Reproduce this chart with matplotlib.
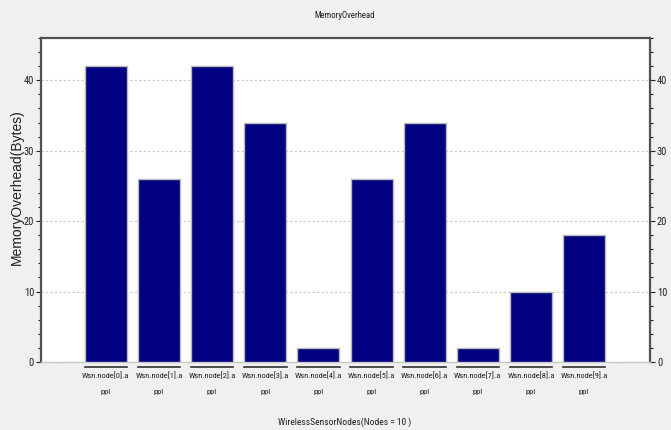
import matplotlib
matplotlib.use("Agg")
import matplotlib.pyplot as plt
from matplotlib import font_manager
from matplotlib.ticker import MultipleLocator
import matplotlib.transforms as mtransforms

nodes = [f"Wsn.node[{i}].a\nppl" for i in range(10)]
overhead = [42, 26, 42, 34, 2, 26, 34, 2, 10, 18]

# prefer a condensed face when one is installed
installed = {f.name for f in font_manager.fontManager.ttflist}
if "Roboto Condensed" in installed:
    narrow, scale = ["Roboto Condensed", "DejaVu Sans"], 1.0
elif "Liberation Sans Narrow" in installed:
    narrow, scale = ["Liberation Sans Narrow", "DejaVu Sans"], 1.05
else:
    narrow, scale = ["Liberation Sans", "DejaVu Sans"], 0.85

fig = plt.figure(figsize=(6.71, 4.30), dpi=100, facecolor="#f0f0f0")
ax = fig.add_axes([41 / 671, 1 - 362 / 430, (650 - 41) / 671, (362 - 38) / 430])
ax.set_facecolor("white")

x = list(range(len(nodes)))
ax.bar(x, overhead, width=0.79, color="#000080", edgecolor="#b8b8b8",
       linewidth=1.0, zorder=3)

ax.set_xlim(-1.22, 10.24)
ax.set_ylim(0, 46)

# dotted grid at major ticks
ax.yaxis.set_major_locator(MultipleLocator(10))
ax.yaxis.set_minor_locator(MultipleLocator(2))
ax.grid(axis="y", which="major", linestyle=(0, (2, 2)), color="#c8c8c8",
        linewidth=0.8, zorder=1)

# y ticks on both sides
ax.tick_params(axis="y", which="both", left=True, right=True,
               labelleft=True, labelright=True, direction="out",
               colors="#202020", labelsize=7.5 * scale, width=0.8, pad=1.5)
ax.tick_params(axis="y", which="major", length=3.5)
ax.tick_params(axis="y", which="minor", length=2)
for t in ax.yaxis.get_major_ticks():
    t.label1.set_family(narrow)
    t.label2.set_family(narrow)

ax.set_xticks(x)
ax.set_xticklabels(nodes, fontsize=6.0 * scale, family=narrow, linespacing=2.9)
ax.tick_params(axis="x", length=0, pad=7.0, colors="#202020")

for side in ("left", "right", "top"):
    ax.spines[side].set_color("#505050")
    ax.spines[side].set_linewidth(1.6)
ax.spines["bottom"].set_color("#c8c8c8")
ax.spines["bottom"].set_linewidth(1.0)

# short dark segments beneath each category
trans = mtransforms.blended_transform_factory(ax.transData, ax.transAxes)
for xi in x:
    ax.plot([xi - 0.4, xi + 0.4], [-0.015, -0.015], color="#303030",
            linewidth=1.2, transform=trans, clip_on=False, zorder=4)

fig.text(345 / 671, 1 - 16 / 430, "MemoryOverhead", ha="center", va="center",
         fontsize=6.3 * scale, family=narrow, color="#202020")
fig.text(345 / 671, 1 - 422 / 430, "WirelessSensorNodes(Nodes = 10 )",
         ha="center", va="center", fontsize=6.8 * scale, family=narrow,
         color="#202020")
fig.text(17 / 671, 1 - 187 / 430, "MemoryOverhead(Bytes)", ha="center",
         va="center", rotation=90, fontsize=10,
         family=["Liberation Sans", "DejaVu Sans"], color="#202020")

fig.savefig("out.png", dpi=100, facecolor=fig.get_facecolor())
